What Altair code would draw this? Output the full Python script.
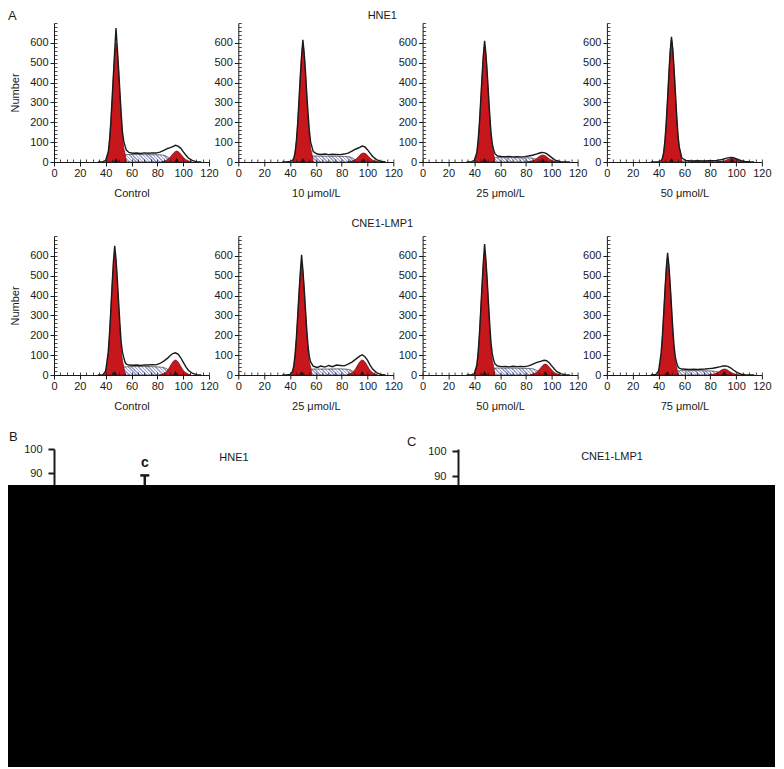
import altair as alt
import pandas as pd

FONT = "Liberation Sans"
INK = "#1a1a1a"
RED = "#c8161d"
RED_EDGE = "#6a0a0a"
HATCH_INK = "#9ea3d0"
HATCH_BG = "#f3f3fb"

ROW_TITLES = ["HNE1", "CNE1-LMP1"]
PANEL_LABELS = ["Control", "10 μmol/L", "25 μmol/L", "50 μmol/L",
                "Control", "25 μmol/L", "50 μmol/L", "75 μmol/L"]

X_TICKS = [0, 20, 40, 60, 80, 100, 120]
X_MINOR = [0, 5, 10, 15, 20, 25, 30, 35, 40, 45, 50, 55, 60, 65, 70, 75, 80,
           85, 90, 95, 100, 105, 110, 115, 120]
Y_TICKS = [0, 100, 200, 300, 400, 500, 600]
Y_MINOR = [0, 20, 40, 60, 80, 100, 120, 140, 160, 180, 200, 220, 240, 260,
           280, 300, 320, 340, 360, 380, 400, 420, 440, 460, 480, 500, 520,
           540, 560, 580, 600, 620, 640, 660, 680, 700]

# peak positions (channel) of G0/G1 and G2/M for the 8 histograms
G1_PEAK = [48, 50, 48, 50, 47, 49, 48, 47]
G2_PEAK = [95, 97, 93, 97, 94, 96, 95, 91]

# fitted G0/G1 component (red)
G1_X = [
    [40, 41, 42, 43, 44, 45, 46, 47, 48, 49, 50, 51, 52, 53, 54, 55, 56],
    [42, 43, 44, 45, 46, 47, 48, 49, 50, 51, 52, 53, 54, 55, 56, 57, 58],
    [40, 41, 42, 43, 44, 45, 46, 47, 48, 49, 50, 51, 52, 53, 54, 55, 56],
    [42, 43, 44, 45, 46, 47, 48, 49, 50, 51, 52, 53, 54, 55, 56, 57, 58],
    [39, 40, 41, 42, 43, 44, 45, 46, 47, 48, 49, 50, 51, 52, 53, 54, 55],
    [41, 42, 43, 44, 45, 46, 47, 48, 49, 50, 51, 52, 53, 54, 55, 56, 57],
    [40, 41, 42, 43, 44, 45, 46, 47, 48, 49, 50, 51, 52, 53, 54, 55, 56],
    [39, 40, 41, 42, 43, 44, 45, 46, 47, 48, 49, 50, 51, 52, 53, 54, 55],
]
G1_Y = [
    [0, 18, 48, 108, 198, 312, 432, 540, 600, 552, 456, 342, 228, 132, 72, 42, 0],
    [0, 18, 47, 106, 195, 307, 425, 531, 590, 543, 448, 336, 224, 130, 71, 41, 0],
    [0, 18, 47, 105, 193, 304, 421, 527, 585, 538, 445, 333, 222, 129, 70, 41, 0],
    [0, 18, 49, 111, 203, 320, 443, 554, 615, 566, 467, 351, 234, 135, 74, 43, 0],
    [0, 18, 49, 111, 203, 320, 443, 554, 615, 566, 467, 351, 234, 135, 74, 43, 0],
    [0, 17, 45, 102, 186, 294, 407, 509, 565, 520, 429, 322, 215, 124, 68, 40, 0],
    [0, 18, 49, 111, 203, 320, 443, 554, 615, 566, 467, 351, 234, 135, 74, 43, 0],
    [0, 18, 47, 106, 195, 307, 425, 531, 590, 543, 448, 336, 224, 130, 71, 41, 0],
]

# fitted S-phase component (hatched)
S_X = [50, 54, 58, 64, 70, 76, 82, 86, 89, 92, 95]
S_Y = [
    [20, 36, 38, 38, 37, 37, 36, 32, 20, 6, 0],
    [15, 28, 30, 30, 29, 29, 28, 26, 18, 6, 0],
    [12, 20, 22, 22, 22, 21, 21, 18, 12, 4, 0],
    [3, 5, 5, 5, 5, 5, 4, 4, 3, 1, 0],
    [22, 40, 42, 43, 43, 42, 40, 35, 24, 8, 0],
    [15, 28, 30, 30, 30, 31, 30, 27, 18, 6, 0],
    [18, 33, 35, 35, 35, 34, 33, 30, 20, 6, 0],
    [12, 20, 22, 22, 22, 21, 20, 15, 8, 2, 0],
]

# fitted G2/M component (red)
G2_X = [
    [83, 86, 89, 91, 93, 95, 97, 99, 101, 104, 107],
    [85, 88, 91, 93, 95, 97, 99, 101, 103, 106, 109],
    [81, 84, 87, 89, 91, 93, 95, 97, 99, 102, 105],
    [85, 88, 91, 93, 95, 97, 99, 101, 103, 106, 109],
    [82, 85, 88, 90, 92, 94, 96, 98, 100, 103, 106],
    [84, 87, 90, 92, 94, 96, 98, 100, 102, 105, 108],
    [83, 86, 89, 91, 93, 95, 97, 99, 101, 104, 107],
    [79, 82, 85, 87, 89, 91, 93, 95, 97, 100, 103],
]
G2_Y = [
    [0, 6, 18, 33, 48, 55, 48, 33, 18, 6, 0],
    [0, 5, 14, 27, 40, 45, 40, 27, 14, 5, 0],
    [0, 4, 11, 21, 31, 35, 31, 21, 11, 4, 0],
    [0, 2, 6, 11, 16, 18, 16, 11, 6, 2, 0],
    [0, 8, 24, 45, 66, 75, 66, 45, 24, 8, 0],
    [0, 8, 24, 45, 66, 75, 66, 45, 24, 8, 0],
    [0, 6, 18, 33, 48, 55, 48, 33, 18, 6, 0],
    [0, 3, 10, 18, 26, 30, 26, 18, 10, 3, 0],
]

# measured DNA histogram (black outline)
D_X = [34, 38, 40, 42, 43, 44, 45, 46, 47, 48, 49, 50, 51, 52, 53, 54, 55, 56,
       58, 61, 64, 67, 70, 73, 76, 79, 82, 85, 88, 90, 92, 94, 96, 98, 100,
       102, 104, 107, 110, 114]
D_Y = [
    [0, 2, 8, 50, 110, 200, 318, 440, 560, 675, 575, 470, 355, 245, 150, 105,
     80, 60, 48, 44, 45, 43, 46, 44, 46, 45, 50, 58, 68, 72, 78, 84, 80, 70,
     52, 35, 20, 8, 2, 0],
    [0, 1, 3, 8, 20, 50, 108, 198, 312, 430, 535, 615, 548, 455, 342, 245,
     158, 100, 52, 40, 38, 40, 37, 39, 38, 37, 40, 45, 55, 62, 68, 74, 80, 76,
     62, 45, 28, 12, 4, 0],
    [0, 2, 8, 48, 108, 196, 310, 428, 535, 610, 545, 452, 342, 235, 145, 90,
     62, 42, 30, 28, 27, 28, 26, 27, 26, 27, 30, 34, 40, 44, 48, 47, 42, 32,
     22, 12, 6, 2, 0, 0],
    [0, 0, 2, 7, 19, 50, 112, 205, 322, 445, 556, 630, 568, 470, 352, 236,
     138, 76, 20, 8, 6, 5, 6, 5, 5, 6, 6, 8, 11, 14, 18, 21, 23, 22, 17, 12,
     7, 3, 1, 0],
    [0, 2, 20, 115, 210, 328, 455, 570, 650, 585, 485, 370, 260, 165, 115, 88,
     65, 55, 50, 49, 50, 48, 51, 50, 52, 51, 58, 70, 85, 98, 108, 112, 105,
     88, 65, 42, 24, 9, 2, 0],
    [0, 1, 3, 18, 47, 105, 190, 300, 412, 515, 605, 528, 436, 330, 228, 145,
     92, 66, 45, 38, 45, 40, 48, 42, 50, 48, 46, 55, 65, 75, 85, 95, 102, 92,
     75, 50, 30, 12, 3, 0],
    [0, 2, 7, 50, 113, 206, 325, 450, 565, 660, 580, 478, 362, 250, 160, 105,
     75, 56, 45, 42, 43, 41, 44, 42, 43, 42, 46, 54, 62, 66, 70, 74, 72, 62,
     46, 30, 17, 7, 2, 0],
    [0, 3, 20, 110, 200, 312, 432, 540, 615, 550, 455, 345, 235, 145, 90, 62,
     42, 35, 30, 29, 28, 29, 28, 29, 30, 32, 34, 38, 42, 45, 46, 42, 35, 25,
     16, 9, 4, 1, 0, 0],
]

# cell-cycle distribution bar charts (B, C) - only the tops are visible
PHASES = ["G0/G1", "S", "G2/M"]
B_CONC = ["Control", "10 μmol/L", "25 μmol/L", "50 μmol/L"]
B_MEAN = {"G0/G1": [62, 67, 73, 83], "S": [26, 23, 19, 11], "G2/M": [12, 10, 8, 6]}
B_ERR = {"G0/G1": [3, 3, 4, 6], "S": [2, 2, 2, 2], "G2/M": [1, 1, 1, 1]}
B_SIG = {"G0/G1": ["", "a", "b", "c"], "S": ["", "", "", ""], "G2/M": ["", "", "", ""]}
C_CONC = ["Control", "25 μmol/L", "50 μmol/L", "75 μmol/L"]
C_MEAN = {"G0/G1": [58, 64, 70, 77], "S": [30, 26, 21, 15], "G2/M": [12, 10, 9, 8]}
C_ERR = {"G0/G1": [3, 3, 3, 4], "S": [2, 2, 2, 2], "G2/M": [1, 1, 1, 1]}
C_SIG = {"G0/G1": ["", "", "", ""], "S": ["", "", "", ""], "G2/M": ["", "", "", ""]}

PANEL_W = 155
PANEL_H = 139
BLACK_H = 282
X_MAX = 120
Y_MAX = 700


def hatch_fill(s_vals):
    """Diagonal stripe fill for the S-phase area (style only)."""
    w = PANEL_W * (S_X[-1] - S_X[0]) / X_MAX
    h = max(PANEL_H * max(s_vals) / Y_MAX, 0.5)
    s = (w + h) / (w * w + h * h)
    period = 3.4 / (w + h)
    stops = []
    t = 0.0
    while t < 1.0:
        a = t
        b = min(t + period * 0.45, 1.0)
        c = min(t + period, 1.0)
        stops += [alt.GradientStop(color=HATCH_INK, offset=a),
                  alt.GradientStop(color=HATCH_INK, offset=b),
                  alt.GradientStop(color=HATCH_BG, offset=b),
                  alt.GradientStop(color=HATCH_BG, offset=c)]
        t = c
    return alt.LinearGradient(gradient="linear", stops=stops, x1=0, y1=1,
                              x2=s * w, y2=1 - s * h)


def hist_panel(k):
    xsc = alt.Scale(domain=[0, X_MAX], nice=False, zero=False)
    ysc = alt.Scale(domain=[0, Y_MAX], nice=False)
    common = dict(domainColor=INK, tickColor=INK, labelColor=INK,
                  titleColor=INK, labelFont=FONT, titleFont=FONT, grid=False,
                  zindex=1)
    x_major = alt.Axis(values=X_TICKS, orient="bottom", title=PANEL_LABELS[k],
                       tickSize=4, tickWidth=1, domainWidth=1, labelFontSize=11,
                       labelPadding=1, labelFlush=False, labelOverlap=False,
                       titleFontSize=11, titleFontWeight="normal",
                       titlePadding=9, **common)
    y_major = alt.Axis(values=Y_TICKS, orient="left",
                       title="Number" if k % 4 == 0 else "",
                       tickSize=4, tickWidth=1, domainWidth=1, labelFontSize=11,
                       labelPadding=2, labelFlush=False, labelOverlap=False,
                       titleFontSize=11, titleFontWeight="normal",
                       titlePadding=9, **common)
    x_minor = alt.Axis(values=X_MINOR, orient="bottom", offset=-3, tickSize=3,
                       tickWidth=0.8, tickColor=INK, domain=False, labels=False,
                       title="", grid=False, zindex=1)
    y_minor = alt.Axis(values=Y_MINOR, orient="left", offset=-3, tickSize=3,
                       tickWidth=0.8, tickColor=INK, domain=False, labels=False,
                       title="", grid=False, zindex=1)

    s_layer = alt.Chart(pd.DataFrame({"x": S_X, "y": S_Y[k]})).mark_area(
        fill=hatch_fill(S_Y[k]), stroke=INK, strokeWidth=0.6,
        interpolate="monotone", opacity=1).encode(
        x=alt.X("x:Q", scale=xsc, axis=x_major),
        y=alt.Y("y:Q", scale=ysc, axis=y_major))
    g2_layer = alt.Chart(pd.DataFrame({"x": G2_X[k], "y": G2_Y[k]})).mark_area(
        fill=RED, stroke=RED_EDGE, strokeWidth=0.7, interpolate="monotone",
        opacity=1).encode(
        x=alt.X("x:Q", scale=xsc, axis=x_minor),
        y=alt.Y("y:Q", scale=ysc, axis=y_minor))
    g1_layer = alt.Chart(pd.DataFrame({"x": G1_X[k], "y": G1_Y[k]})).mark_area(
        fill=RED, stroke=RED_EDGE, strokeWidth=0.7, interpolate="monotone",
        opacity=1).encode(
        x=alt.X("x:Q", scale=xsc, axis=None),
        y=alt.Y("y:Q", scale=ysc, axis=None))
    d_layer = alt.Chart(pd.DataFrame({"x": D_X, "y": D_Y[k]})).mark_line(
        color=INK, strokeWidth=1.4, interpolate="linear").encode(
        x=alt.X("x:Q", scale=xsc, axis=None),
        y=alt.Y("y:Q", scale=ysc, axis=None))
    tri = alt.Chart(pd.DataFrame({"x": [G1_PEAK[k], G2_PEAK[k]], "y": [0, 0]})
                    ).mark_point(shape="triangle-up", filled=True, color=INK,
                                 size=22, opacity=1, yOffset=-2).encode(
        x=alt.X("x:Q", scale=xsc, axis=None),
        y=alt.Y("y:Q", scale=ysc, axis=None))
    layers = [s_layer, g2_layer, g1_layer, d_layer, tri]
    if k == 0:
        layers.append(alt.Chart(pd.DataFrame({"t": ["A"]})).mark_text(
            align="left", baseline="top", fontSize=13, font=FONT, color=INK
        ).encode(x=alt.value(-46), y=alt.value(-13), text="t:N"))
    if k % 4 == 1:
        layers.append(alt.Chart(pd.DataFrame({"t": [ROW_TITLES[k // 4]]})).mark_text(
            align="center", baseline="top", fontSize=11, font=FONT, color=INK
        ).encode(x=alt.value(144), y=alt.value(-13 if k < 4 else -18), text="t:N"))
    return alt.layer(*layers).resolve_axis(x="independent", y="independent"
                                           ).properties(width=PANEL_W, height=PANEL_H)


def bar_panel(concs, means, errs, sigs, domain, letter, letter_xy, title,
              title_xy, width):
    rows = []
    for g, ph in enumerate(PHASES):
        for i, c in enumerate(concs):
            m = means[ph][i]
            e = errs[ph][i]
            rows.append({"phase": ph, "conc": c, "slot": g * 5 + i, "mean": m,
                         "lo": m - e, "hi": m + e, "sig": sigs[ph][i]})
    df = pd.DataFrame(rows)
    ysc = alt.Scale(domain=domain, nice=False, zero=False)
    x = alt.X("slot:Q", scale=alt.Scale(domain=[-0.9, 14.1], nice=False,
                                        zero=False), axis=None)
    yaxis = alt.Axis(values=[90, 100], orient="left", title="", tickSize=6,
                     tickWidth=2, domainWidth=2, labelPadding=6,
                     labelFontSize=11, labelFont=FONT, labelFlush=False,
                     grid=False, domainColor=INK, tickColor=INK,
                     labelColor=INK, zindex=1)
    base = alt.Chart(df)
    bars = base.mark_bar(clip=True, stroke=INK, strokeWidth=1, size=18).encode(
        x=x,
        y=alt.Y("mean:Q", scale=ysc, axis=yaxis), y2=alt.datum(0),
        color=alt.Color("conc:N", sort=concs, legend=None,
                        scale=alt.Scale(domain=concs,
                                        range=["#ffffff", "#bdbdbd", "#7a7a7a", "#2a2a2a"])))
    rule = base.mark_rule(clip=True, color=INK, strokeWidth=2.5).encode(
        x=x, y=alt.Y("lo:Q", scale=ysc, axis=None), y2="hi:Q")
    cap = base.mark_tick(clip=True, color=INK, thickness=2.5, size=9,
                         orient="horizontal", opacity=1).encode(
        x=x, y=alt.Y("hi:Q", scale=ysc, axis=None))
    sig = base.mark_text(clip=True, dy=-8, baseline="alphabetic", fontSize=14,
                         fontWeight="bold", font=FONT, color=INK).encode(
        x=x, y=alt.Y("hi:Q", scale=ysc, axis=None), text="sig:N")
    lab = alt.Chart(pd.DataFrame({"t": [letter]})).mark_text(
        align="left", baseline="top", fontSize=13, font=FONT, color=INK
    ).encode(x=alt.value(letter_xy[0]), y=alt.value(letter_xy[1]), text="t:N")
    ttl = alt.Chart(pd.DataFrame({"t": [title]})).mark_text(
        align="center", baseline="middle", fontSize=11, font=FONT, color=INK
    ).encode(x=alt.value(title_xy[0]), y=alt.value(title_xy[1]), text="t:N")
    return alt.layer(bars, rule, cap, sig, lab, ttl).resolve_axis(
        x="independent", y="independent").properties(width=width, height=36)


row1 = alt.hconcat(*[hist_panel(k) for k in range(4)], spacing=29.3,
                   bounds="flush")
row2 = alt.hconcat(*[hist_panel(k) for k in range(4, 8)], spacing=29.3,
                   bounds="flush")

b_chart = bar_panel(B_CONC, B_MEAN, B_ERR, B_SIG, [85, 100], "B", (-45, -18),
                    "HNE1", (180, 9), 340)
c_chart = bar_panel(C_CONC, C_MEAN, C_ERR, C_SIG, [86.4, 100.8], "C",
                    (-51, -13), "CNE1-LMP1", (154, 8), 305)
bc = alt.hconcat(b_chart, c_chart, spacing=64, bounds="flush")

black = alt.Chart(pd.DataFrame({"v": [0]})).mark_rect(color="black").encode(
    x=alt.value(-46), x2=alt.value(721), y=alt.value(0), y2=alt.value(BLACK_H)
).properties(width=710, height=BLACK_H)

lower = alt.vconcat(bc, black, spacing=0)
mid = alt.vconcat(row2, lower, spacing=20)
chart = alt.vconcat(row1, mid, spacing=20).properties(
    padding={"left": 0, "top": 2, "right": 0, "bottom": 0}, background="white"
).configure_view(strokeWidth=0)

chart.save("out.html", embed_options={"renderer": "svg", "actions": False})
